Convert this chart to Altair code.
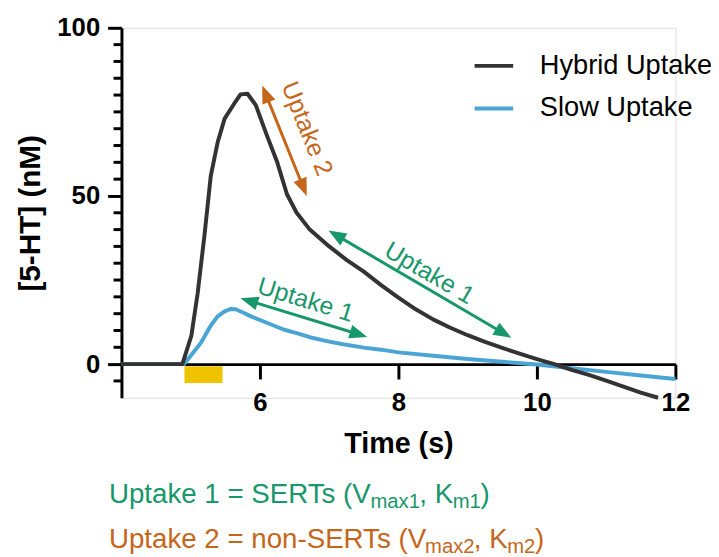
import math
import altair as alt
import pandas as pd

# ---------------- data ----------------
hyb_t = [4.0, 4.88, 5.01, 5.10, 5.20, 5.29, 5.39, 5.49, 5.63, 5.72, 5.82, 5.94, 6.10, 6.25,
         6.39, 6.53, 6.72, 7.0, 7.25, 7.5, 7.75, 8.0, 8.25, 8.5, 8.75, 9.0, 9.25, 9.5, 9.75,
         10.0, 10.25, 10.5, 10.75, 11.0, 11.25, 11.5, 11.75]
hyb_c = [0, 0, 8.5, 21, 38.5, 56, 66, 73, 77.5, 80.2, 80.4, 77, 68, 60,
         50.5, 45, 40, 35, 31, 27.5, 23.5, 19.8, 16.3, 13.3, 10.8, 8.6, 6.6, 4.8, 3.1,
         1.5, 0.0, -1.7, -3.2, -4.9, -6.7, -8.5, -10.0]
slow_t = [4.0, 4.9, 5.0, 5.15, 5.29, 5.39, 5.49, 5.58, 5.65, 5.77, 5.87, 6.1, 6.34, 6.53,
          6.72, 7.0, 7.2, 7.5, 7.75, 8.0, 8.5, 9.0, 9.5, 10.0, 10.5, 11.0, 11.5, 12.0]
slow_c = [0, 0, 2.5, 6.4, 11.5, 14.2, 15.7, 16.4, 16.3, 15.2, 14.2, 12.3, 10.3, 9.2,
          8.0, 6.7, 5.9, 4.9, 4.3, 3.5, 2.5, 1.5, 0.7, -0.1, -1.2, -2.3, -3.4, -4.4]
series_names = ["Hybrid Uptake", "Slow Uptake"]

stim_start, stim_end = 4.91, 5.46
stim_top, stim_bottom = -0.6, -5.6

x_ticks = [6, 8, 10, 12]
y_ticks = [0, 50, 100]
y_minor = [-5, 5, 10, 15, 20, 25, 30, 35, 40, 45, 55, 60, 65, 70, 75, 80, 85, 90, 95]

arrow_x1 = [6.033, 6.99, 5.72]
arrow_y1 = [82.85, 39.7, 19.6]
arrow_x2 = [6.676, 9.63, 7.55]
arrow_y2 = [50.0, 7.85, 8.1]
arrow_kind = [2, 1, 1]
arrow_label = ["Uptake 2", "Uptake 1", "Uptake 1"]
label_x = [6.68, 8.447, 6.66]
label_y = [70.0, 27.06, 19.1]

eq1_parts = ["Uptake 1 = SERTs (V", "max1", ", K", "m1", ")"]
eq2_parts = ["Uptake 2 = non-SERTs (V", "max2", ", K", "m2", ")"]
eq_sub = [False, True, False, True, False]

# ---------------- styling / layout ----------------
FONT = "Liberation Sans"
GREEN = "#17976A"
ORANGE = "#C6661A"
DARK = "#333333"
BLUE = "#4BA5D4"
YELLOW = "#EFC300"
W, H = 560, 374
XMIN, XMAX, YMIN, YMAX = 4, 12, -10, 100
SX = W / (XMAX - XMIN)
SY = H / (YMAX - YMIN)

xscale = alt.Scale(domain=[XMIN, XMAX], nice=False, zero=False)
yscale = alt.Scale(domain=[YMIN, YMAX], nice=False, zero=False)
xaxis = alt.Axis(values=x_ticks, title="Time (s)", offset=-(0 - YMIN) * SY, tickSize=15,
                 tickWidth=3, domainWidth=3, labelFlush=False, labelFontSize=26,
                 labelFontWeight="bold", labelPadding=11, titleFontSize=29,
                 titleFontWeight="bold", titlePadding=14, grid=False, domainColor="black",
                 tickColor="black", labelColor="black", titleColor="black",
                 labelFont=FONT, titleFont=FONT, format="d")
yaxis = alt.Axis(values=y_ticks, title="[5-HT] (nM)", tickSize=14, tickWidth=3,
                 domainWidth=3, labelFlush=False, labelFontSize=26, labelFontWeight="bold",
                 labelPadding=8, titleFontSize=30, titleFontWeight="bold", titlePadding=11,
                 grid=False, domainColor="black", tickColor="black", labelColor="black",
                 titleColor="black", labelFont=FONT, titleFont=FONT, format="d")


def X(f):
    return alt.X(f, type="quantitative", scale=xscale, axis=xaxis)


def Y(f):
    return alt.Y(f, type="quantitative", scale=yscale, axis=yaxis)


color_enc = alt.Color("series:N", scale=alt.Scale(domain=series_names, range=[DARK, BLUE]),
                      legend=alt.Legend(orient="none", legendX=355, legendY=17, title=None,
                                        symbolType="stroke", symbolStrokeWidth=4,
                                        symbolSize=1521, labelFontSize=27.5, labelFont=FONT,
                                        labelColor="black", labelOffset=25, rowPadding=8,
                                        labelLimit=0, padding=0))

df_h = pd.DataFrame({"t": hyb_t, "c": hyb_c, "series": series_names[0]})
df_s = pd.DataFrame({"t": slow_t, "c": slow_c, "series": series_names[1]})

# stimulation bar
df_stim = pd.DataFrame({"s0": [stim_start], "s1": [stim_end], "b0": [stim_top], "b1": [stim_bottom]})
stim = alt.Chart(df_stim).mark_rect(color=YELLOW).encode(
    x=X("s0"), x2="s1", y=Y("b0"), y2="b1")

minor = alt.Chart(pd.DataFrame({"v": y_minor})).mark_rule(strokeWidth=3, color="black").encode(
    x=alt.value(-8), x2=alt.value(0), y=Y("v"))

slow_line = alt.Chart(df_s).mark_line(strokeWidth=4, strokeJoin="round").encode(
    x=X("t"), y=Y("c"), color=color_enc)
hyb_line = alt.Chart(df_h).mark_line(strokeWidth=4, strokeJoin="round").encode(
    x=X("t"), y=Y("c"), color=color_enc)

# arrows: shafts + heads, computed from the endpoints
HEAD_LEN = 18
SHORT = 10
rows_shaft, rows_head, rows_lab = [], [], []
for x1, y1, x2, y2, k, lab, lx, ly in zip(arrow_x1, arrow_y1, arrow_x2, arrow_y2,
                                           arrow_kind, arrow_label, label_x, label_y):
    col = ORANGE if k == 2 else GREEN
    dx = (x2 - x1) * SX
    dy = -(y2 - y1) * SY  # screen, down positive
    L = math.hypot(dx, dy)
    ux, uy = dx / L, dy / L
    sx1 = x1 + ux * SHORT / SX
    sy1 = y1 - uy * SHORT / SY
    sx2 = x2 - ux * SHORT / SX
    sy2 = y2 + uy * SHORT / SY
    rows_shaft.append({"a": sx1, "b": sy1, "a2": sx2, "b2": sy2, "col": col})
    ang_fwd = math.degrees(math.atan2(dx, -dy)) % 360
    ang_back = (ang_fwd + 180) % 360
    rows_head.append({"hx": x2, "hy": y2, "ha": ang_fwd, "col": col})
    rows_head.append({"hx": x1, "hy": y1, "ha": ang_back, "col": col})
    text_ang = math.degrees(math.atan2(dy, dx)) % 360
    rows_lab.append({"lx": lx, "ly": ly, "txt": lab, "ang": text_ang, "col": col})

shafts = alt.Chart(pd.DataFrame(rows_shaft)).mark_rule(strokeWidth=3).encode(
    x=X("a"), y=Y("b"), x2="a2", y2="b2", color=alt.Color("col:N", scale=None, legend=None))
HEAD_PATH = "M0,0L-0.39,1L0.39,1Z"
heads = alt.Chart(pd.DataFrame(rows_head)).mark_point(
    shape=HEAD_PATH, filled=True, size=(2 * HEAD_LEN) ** 2, opacity=1, strokeWidth=0).encode(
    x=X("hx"), y=Y("hy"), angle=alt.Angle("ha:Q", scale=None),
    color=alt.Color("col:N", scale=None, legend=None))
labels = alt.Chart(pd.DataFrame(rows_lab)).mark_text(
    align="center", baseline="middle", fontSize=25, font=FONT).encode(
    x=X("lx"), y=Y("ly"), text="txt:N", angle=alt.Angle("ang:Q", scale=None),
    color=alt.Color("col:N", scale=None, legend=None))

# equations below the chart (with subscripts)
AW = {'U': 722, 'p': 556, 't': 278, 'a': 556, 'k': 500, 'e': 556, ' ': 278, '1': 556,
      '2': 556, '=': 584, 'S': 667, 'E': 667, 'R': 722, 'T': 611, 's': 500, '(': 333,
      ')': 333, 'V': 667, 'm': 833, 'x': 500, ',': 278, 'K': 667, 'n': 556, 'o': 556,
      '-': 333}


def tw(s, size):
    return sum(AW.get(c, 556) for c in s) / 1000 * size * 0.985


FS_MAIN, FS_SUB, SUB_DY = 28, 20.5, 5
rows_eq = []
for parts, base_y, col in [(eq1_parts, 480, GREEN), (eq2_parts, 525.5, ORANGE)]:
    cx = -12.7
    for p, sub in zip(parts, eq_sub):
        fs = FS_SUB if sub else FS_MAIN
        rows_eq.append({"px": cx, "py": base_y + (SUB_DY if sub else 0), "txt": p,
                        "fs": fs, "col": col})
        cx += tw(p, fs)
eqs = alt.Chart(pd.DataFrame(rows_eq)).mark_text(
    align="left", baseline="alphabetic", font=FONT).encode(
    x=alt.X("px:Q", scale=None, axis=None), y=alt.Y("py:Q", scale=None, axis=None),
    text="txt:N", size=alt.Size("fs:Q", scale=None, legend=None),
    color=alt.Color("col:N", scale=None, legend=None))

chart = alt.layer(stim, minor, slow_line, hyb_line, shafts, heads, labels, eqs).properties(
    width=W, height=H,
    autosize=alt.AutoSizeParams(type="none"),
    padding={"left": 114.7, "top": 17, "right": 36, "bottom": 161},
).configure_view(stroke=None).configure(font=FONT)

chart.save("out.html", embed_options={"renderer": "svg", "actions": False})
